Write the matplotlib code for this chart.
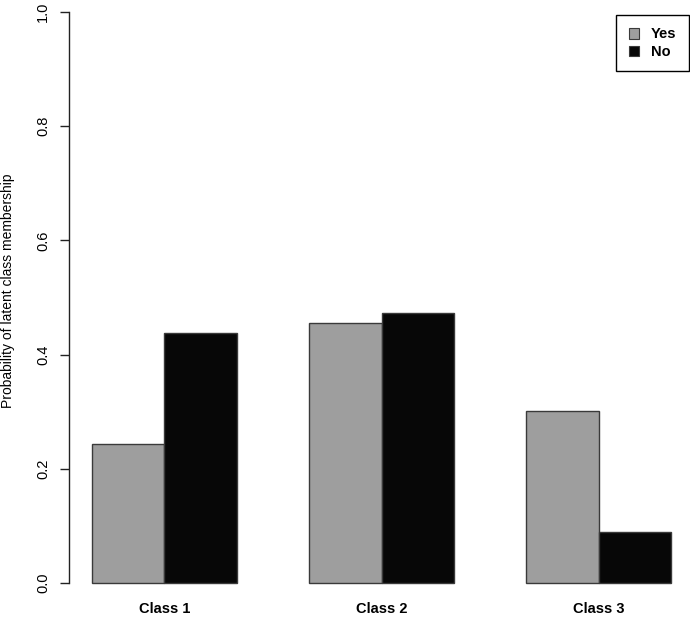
import matplotlib
matplotlib.use("Agg")
import matplotlib.pyplot as plt
import numpy as np
from matplotlib.patches import Patch

categories = ["Class 1", "Class 2", "Class 3"]
series_names = ["Yes", "No"]
yes_values = [0.244, 0.455, 0.301]
no_values = [0.438, 0.473, 0.090]
y_ticks = [0.0, 0.2, 0.4, 0.6, 0.8, 1.0]
y_label = "Probability of latent class membership"

plt.rcParams['font.family'] = ['Liberation Sans', 'DejaVu Sans']

W, H = 690, 617
fig = plt.figure(figsize=(W / 100, H / 100), dpi=100)

# R barplot beside=TRUE layout: width 1, space c(0,1)
n = len(categories)
group_start = np.arange(n) * 3 + 1.0  # left edge of first bar in each group
yes_left = group_start
no_left = group_start + 1.0
centers = group_start + 1.0

xlim = (0.68, 9.32)
ylim = (-0.04, 1.04)
px_per_x = 72.4
px_per_y = 571.0
left_px = 68.8
right_px = left_px + (xlim[1] - xlim[0]) * px_per_x
bottom_px = 583 + 0.04 * px_per_y
top_px = 12 - 0.04 * px_per_y
ax = fig.add_axes([left_px / W, (H - bottom_px) / H,
                   (right_px - left_px) / W, (bottom_px - top_px) / H])

gray = "#9e9e9e"
black = "#070707"
edge = "#3a3a3a"
ax.bar(yes_left, yes_values, width=1.0, align="edge", color=gray,
       edgecolor=edge, linewidth=1.0)
ax.bar(no_left, no_values, width=1.0, align="edge", color=black,
       edgecolor=edge, linewidth=1.0)

ax.set_xlim(*xlim)
ax.set_ylim(*ylim)

for s in ["top", "right", "bottom"]:
    ax.spines[s].set_visible(False)
ax.spines["left"].set_bounds(0, 1)
ax.spines["left"].set_linewidth(1.0)
ax.spines["left"].set_color("#222222")

ax.set_yticks(y_ticks)
ax.set_yticklabels([f"{v:.1f}" for v in y_ticks], rotation=90,
                   va="center", fontsize=10.5)
ax.tick_params(axis="y", length=6.5, width=1.0, pad=7, color="#222222")

ax.set_xticks(centers)
ax.set_xticklabels(categories, fontsize=10.5, fontweight="bold")
ax.tick_params(axis="x", length=0, pad=-3)

ax.set_ylabel(y_label, fontsize=10)
ax.yaxis.set_label_coords((15 - left_px) / (right_px - left_px), 0.511)

handles = [Patch(facecolor=gray, edgecolor=edge, linewidth=0.8),
           Patch(facecolor=black, edgecolor=edge, linewidth=0.8)]
leg = fig.legend(handles, series_names, loc="upper right",
                 bbox_to_anchor=(689 / W, 1 - 15 / H),
                 borderaxespad=0, fancybox=False, framealpha=1,
                 edgecolor="black", handlelength=0.75, handleheight=0.75,
                 handletextpad=0.8, labelspacing=0.25, borderpad=0.85,
                 prop={"size": 10.5, "weight": "bold"})
leg.get_frame().set_linewidth(1.0)

fig.savefig("out.png", dpi=100)
